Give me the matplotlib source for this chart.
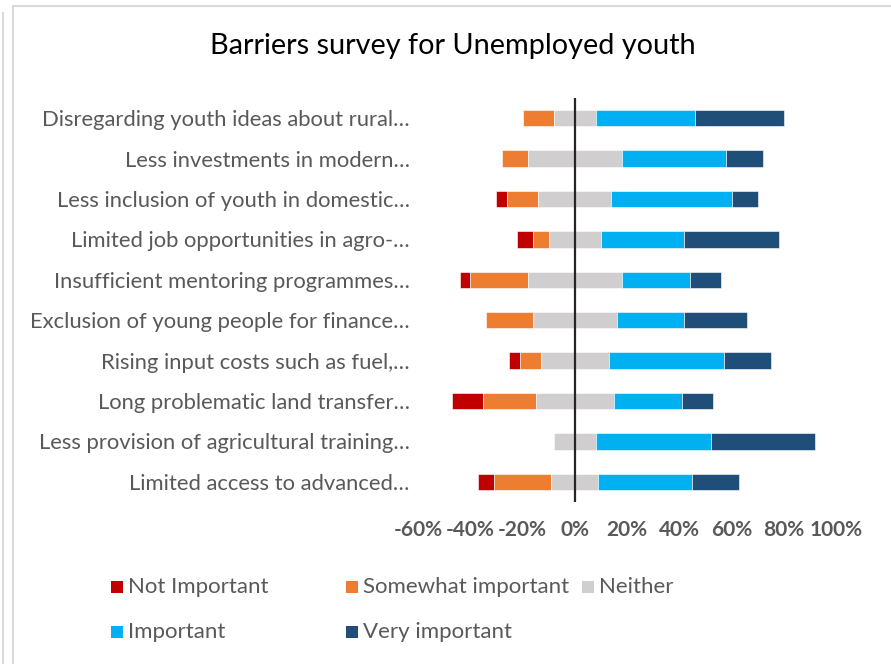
import matplotlib
matplotlib.use("Agg")
import matplotlib.pyplot as plt
from matplotlib.patches import Rectangle
from matplotlib.lines import Line2D
import numpy as np

plt.rcParams['font.family'] = ['Lato', 'DejaVu Sans']

categories = [
    "Disregarding youth ideas about rural…",
    "Less investments in modern…",
    "Less inclusion of youth in domestic…",
    "Limited job opportunities in agro-…",
    "Insufficient mentoring programmes…",
    "Exclusion of young people for finance…",
    "Rising input costs such as fuel,…",
    "Long problematic land transfer…",
    "Less provision of agricultural training…",
    "Limited access to advanced…",
]

series = ["Not Important", "Somewhat important", "Neither", "Important", "Very important"]
not_important = [0, 0, 4, 6, 4, 0, 4, 12, 0, 6]
somewhat_important = [12, 10, 12, 6, 22, 18, 8, 20, 0, 22]
neither = [16, 36, 28, 20, 36, 32, 26, 30, 16, 18]
important = [38, 40, 46, 32, 26, 26, 44, 26, 44, 36]
very_important = [34, 14, 10, 36, 12, 24, 18, 12, 40, 18]

colors = ["#C00000", "#ED7D31", "#D0CECE", "#00B0F0", "#1F4E79"]
x_ticks = [-60, -40, -20, 0, 20, 40, 60, 80, 100]

W, H = 891, 664
fig = plt.figure(figsize=(W / 100, H / 100), dpi=100)
fig.patch.set_facecolor("white")

# outer frame lines
fig.add_artist(Line2D([2.5 / W, 2.5 / W], [0, 1 - 13 / H], transform=fig.transFigure,
                      color="#d9d9d9", lw=1.5))
fig.add_artist(Line2D([12.5 / W, 12.5 / W, 1], [0, 1 - 5.5 / H, 1 - 5.5 / H],
                      transform=fig.transFigure, color="#d9d9d9", lw=1.5))

left, right = 418 / W, 836 / W
top, bottom = 1 - 98 / H, 1 - 502 / H
ax = fig.add_axes([left, bottom, right - left, top - bottom])

y = np.arange(len(categories))
ni = np.array(not_important, dtype=float)
sw = np.array(somewhat_important, dtype=float)
ne = np.array(neither, dtype=float)
im = np.array(important, dtype=float)
vi = np.array(very_important, dtype=float)

# negative side: half of neutral, then somewhat, then not important
neg_start = -(ne / 2 + sw + ni)
lefts = [neg_start, neg_start + ni, -ne / 2, ne / 2, ne / 2 + im]
widths = [ni, sw, ne, im, vi]
bh = 0.41
for lft, wd, c, name in zip(lefts, widths, colors, series):
    ax.barh(y, wd, left=lft, height=bh, color=c, edgecolor="white", linewidth=0.4, label=name)

ax.axvline(0, color="#262626", lw=1.6, zorder=5)

ax.set_xlim(-60, 100)
ax.set_ylim(len(categories) - 0.5, -0.5)
ax.set_xticks(x_ticks)
ax.set_xticklabels([f"{t}%" for t in x_ticks], fontsize=15, fontweight="bold", color="#595959")
ax.set_yticks(y)
ax.set_yticklabels(categories, fontsize=15.8, color="#595959")
ax.tick_params(axis="both", length=0)
ax.tick_params(axis="x", pad=13)
ax.tick_params(axis="y", pad=6)
for s in ax.spines.values():
    s.set_visible(False)

fig.text(453 / W, 1 - 46 / H, "Barriers survey for Unemployed youth", ha="center", va="center",
         fontsize=20.8, color="#000000")

# legend laid out in rows of three
col_x = [111, 346, 582]
row_y = [587, 632]
sq = 12
for i, (name, c) in enumerate(zip(series, colors)):
    cx = col_x[i % 3]
    cy = row_y[i // 3]
    fig.add_artist(Rectangle((cx / W, 1 - (cy + sq / 2) / H), sq / W, sq / H,
                             transform=fig.transFigure, facecolor=c, edgecolor="none"))
    fig.text((cx + sq + 5) / W, 1 - cy / H, name, ha="left", va="center",
             fontsize=16, color="#595959")

fig.savefig("out.png", dpi=100, facecolor="white")
